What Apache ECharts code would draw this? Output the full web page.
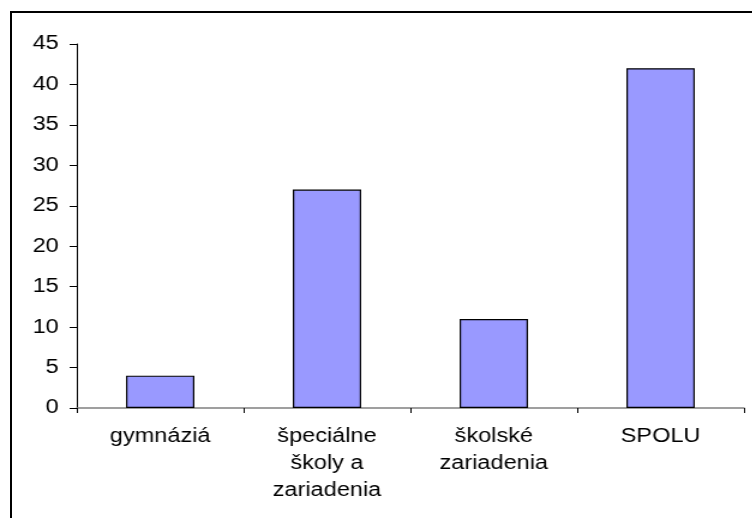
<!DOCTYPE html>
<html>
<head>
<meta charset="utf-8">
<script src="https://cdn.jsdelivr.net/npm/echarts@6/dist/echarts.min.js"></script>
<style>
  html, body { margin: 0; padding: 0; background: #fff; overflow: hidden; }
  .frame {
    position: absolute;
    left: 10px;
    top: 11px;
    width: 800px;
    height: 600px;
    border: 2px solid #000;
  }
  /* the original picture is stretched horizontally, so draw narrow and widen */
  #chart {
    position: absolute;
    left: 0;
    top: 0;
    width: 627px;
    height: 518px;
    transform: scaleX(1.2);
    transform-origin: 0 0;
  }
</style>
</head>
<body>
<div class="frame"></div>
<div id="chart"></div>
<script>
  const categories = ['gymnáziá', 'špeciálne\nškoly a\nzariadenia', 'školské\nzariadenia', 'SPOLU']
  const values = [4, 27, 11, 42]
  const yTicks = { min: 0, max: 45, step: 5 }

  const font = 'Liberation Sans, Arial, sans-serif'

  const chart = echarts.init(document.getElementById('chart'))
  chart.setOption({
    animation: false,
    grid: {
      left: 64,
      right: 7,
      top: 44,
      bottom: 110
    },
    xAxis: {
      type: 'category',
      data: categories,
      axisLine: { lineStyle: { color: '#808080', width: 1.5 } },
      axisTick: {
        show: true,
        length: 5,
        alignWithLabel: false,
        lineStyle: { color: '#000', width: 1 }
      },
      axisLabel: {
        color: '#000',
        fontFamily: font,
        fontSize: 19.6,
        lineHeight: 27,
        margin: 15,
        interval: 0,
        align: 'center'
      }
    },
    yAxis: {
      type: 'value',
      min: yTicks.min,
      max: yTicks.max,
      interval: yTicks.step,
      axisLine: { show: true, lineStyle: { color: '#000', width: 1 } },
      axisTick: { show: true, length: 6, lineStyle: { color: '#000', width: 1 } },
      splitLine: { show: false },
      axisLabel: {
        color: '#000',
        fontFamily: font,
        fontSize: 19.6,
        margin: 15
      }
    },
    series: [
      {
        type: 'bar',
        data: values,
        barWidth: '41%',
        itemStyle: {
          color: '#9999ff',
          borderColor: '#000',
          borderWidth: 1.2
        }
      }
    ]
  })
</script>
</body>
</html>
